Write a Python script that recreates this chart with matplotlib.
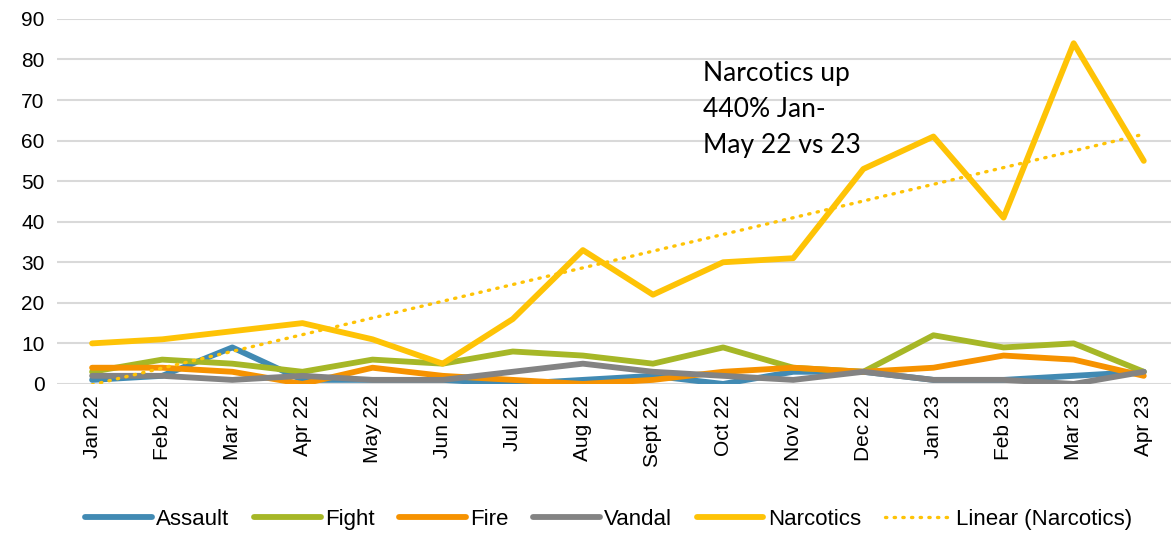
import numpy as np
import matplotlib.pyplot as plt

##########################
# Data
##########################

months = ['Jan 22', 'Feb 22', 'Mar 22', 'Apr 22', 'May 22', 'Jun 22',
          'Jul 22', 'Aug 22', 'Sept 22', 'Oct 22', 'Nov 22', 'Dec 22',
          'Jan 23', 'Feb 23', 'Mar 23', 'Apr 23']
assault = [1, 2, 9, 1, 1, 1, 0, 1, 2, 0, 3, 3, 1, 1, 2, 3]
fight = [3, 6, 5, 3, 6, 5, 8, 7, 5, 9, 4, 3, 12, 9, 10, 3]
fire = [4, 4, 3, 0, 4, 2, 1, 0, 1, 3, 4, 3, 4, 7, 6, 2]
vandal = [2, 2, 1, 2, 1, 1, 3, 5, 3, 2, 1, 3, 1, 1, 0, 3]
narcotics = [10, 11, 13, 15, 11, 5, 16, 33, 22, 30, 31, 53, 61, 41, 84, 55]

##########################
# Figure
##########################

plt.rcParams['font.family'] = ['Liberation Sans', 'DejaVu Sans']

fig = plt.figure(figsize=(11.71, 5.34), dpi=100)
ax = fig.add_axes([0.0487, 0.281, 0.955, 0.6836])

x = np.arange(len(months))
lw = 4.2
ax.plot(x, assault, color='#418AB3', lw=lw, label='Assault', solid_capstyle='round')
ax.plot(x, fight, color='#A6B727', lw=lw, label='Fight', solid_capstyle='round')
ax.plot(x, fire, color='#F69200', lw=lw, label='Fire', solid_capstyle='round')
ax.plot(x, vandal, color='#838383', lw=lw, label='Vandal', solid_capstyle='round')
ax.plot(x, narcotics, color='#FEC306', lw=lw, label='Narcotics', solid_capstyle='round')

# linear trendline
coef = np.polyfit(x + 1, narcotics, 1)
trend = np.polyval(coef, x + 1)
ax.plot(x, trend, color='#FEC306', lw=2.4, linestyle=(0, (0.4, 2.2)),
        dash_capstyle='round', label='Linear (Narcotics)')

ax.set_xlim(-0.5, 15.45)
ax.set_ylim(0, 90)
ax.set_yticks(range(0, 91, 10))
ax.set_xticks(x)
ax.set_xticklabels(months, rotation=90, fontsize=15)
ax.tick_params(axis='y', labelsize=15, length=0, pad=9)
ax.tick_params(axis='x', length=0, pad=8)
ax.yaxis.grid(True, color='#D9D9D9', linewidth=1.5)
ax.set_axisbelow(True)
for s in ax.spines.values():
    s.set_visible(False)

ax.text(8.72, 79.5, 'Narcotics up\n440% Jan-\nMay 22 vs 23', fontsize=19,
        family=['Lato', 'DejaVu Sans'], va='top', ha='left', linespacing=1.55)

fig.legend(loc='center', bbox_to_anchor=(0.52, 0.027), ncol=6, frameon=False,
           fontsize=16, handlelength=3.0, handletextpad=0.2, columnspacing=1.1,
           borderaxespad=0)

plt.savefig('out.png', dpi=100)
plt.close()
